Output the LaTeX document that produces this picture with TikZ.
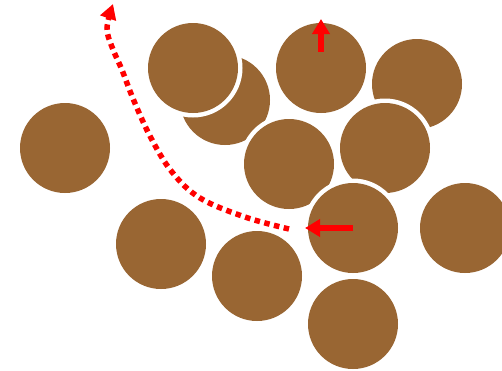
\documentclass[tikz,border=0pt]{standalone}
\usetikzlibrary{arrows.meta}
\definecolor{grain}{RGB}{153,102,51}
\definecolor{arrowred}{RGB}{255,0,0}
\tikzset{
  halo/.style={fill=white},
  grainfill/.style={fill=grain},
  pusharrow/.style={draw=arrowred, line width=6pt, -{Triangle[width=17pt,length=15pt]}},
  pathdots/.style={draw=arrowred, line width=5.5pt, dash pattern=on 5.5pt off 4.5pt, -{Triangle[width=16pt,length=15pt]}}
}
\begin{document}
\begin{tikzpicture}[x=1pt,y=-1pt]
\useasboundingbox (0,0) rectangle (502,370);
\foreach \n/\x/\y in {c1/65/148, c3/225/100, c2/193/68, c4/321/68, c5/417/84, c6/289/164, c7/385/148, c8/353/228, c9/465/228, c10/161/244, c11/257/276, c12/353/324}{
  \fill[halo] (\x,\y) circle (49.5);
  \fill[grainfill] (\x,\y) circle (45);
  \coordinate (\n) at (\x,\y);
}
\coordinate (upS) at (321,52);
\coordinate (upE) at (321,19);
\coordinate (lfS) at (353,228);
\coordinate (lfE) at (305,228);
\draw[pusharrow] (upS) -- (upE);
\draw[pusharrow] (lfS) -- (lfE);
\draw[pathdots] plot[smooth, tension=0.6] coordinates {(289,229) (245,217) (200,198) (172,172) (151,138) (134,101) (122,70) (112,47) (107,28) (113,4)};
\end{tikzpicture}
\end{document}
